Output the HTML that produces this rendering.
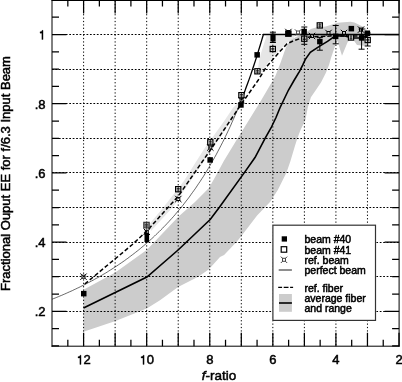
<!DOCTYPE html><html><head><meta charset="utf-8"><style>
html,body{margin:0;padding:0;background:#fff;width:402px;height:382px;overflow:hidden}
svg{display:block;will-change:transform}
text{font-family:"Liberation Sans",sans-serif;fill:#000;stroke:#000;stroke-width:0.5px}
</style></head><body>
<svg width="402" height="382" viewBox="0 0 402 382">
<polygon points="149.5,224.0 163.3,207.4 183.9,181.0 204.1,149.0 224.2,121.0 232.9,108.0 237.5,103.5 241.0,104.5 231.0,121.5 212.2,149.0 172.5,207.5 151.0,231.0" fill="#e6e6e6"/>
<polygon points="257.5,72.0 259.2,60.0 262.0,50.0 264.5,42.0 266.5,35.8 294.0,35.8 294.0,38.8 287.0,42.5 280.0,49.5 273.0,57.0 267.0,64.0 263.0,72.0" fill="#e6e6e6"/>
<polygon points="83.5,289.8 115.3,272.5 147.0,249.8 178.6,216.5 195.0,202.0 208.9,187.9 216.0,175.5 223.8,161.0 237.5,138.6 242.8,130.0 261.2,100.3 275.4,76.0 280.7,62.2 285.9,47.5 290.1,40.2 296.0,37.0 305.0,33.0 310.9,28.9 315.9,27.4 325.8,26.4 337.6,22.7 350.5,21.8 354.4,22.4 361.0,25.7 366.0,28.3 367.5,35.0 367.0,46.0 357.0,45.0 352.0,38.0 347.7,42.0 342.0,55.7 337.5,41.0 335.7,44.0 331.0,58.0 329.0,65.0 325.8,72.9 321.1,82.3 316.4,89.3 310.9,97.2 307.8,107.4 305.4,120.0 300.5,130.0 297.4,138.2 295.0,145.7 290.3,161.4 286.4,172.7 277.8,190.0 270.0,202.1 257.1,215.4 241.4,236.1 236.7,241.8 224.1,255.0 220.0,257.1 208.7,269.6 197.7,277.0 178.1,286.9 160.0,300.3 146.8,308.6 115.5,321.1 83.5,331.8" fill="#cccccc"/>
<g stroke="#000" stroke-width="1" stroke-dasharray="1.25 2.15" stroke-dashoffset="-0.5"><line x1="367.46" y1="0" x2="367.46" y2="346" /><line x1="335.92" y1="0" x2="335.92" y2="346" /><line x1="304.38" y1="0" x2="304.38" y2="346" /><line x1="272.84" y1="0" x2="272.84" y2="346" /><line x1="241.30" y1="0" x2="241.30" y2="346" /><line x1="209.76" y1="0" x2="209.76" y2="346" /><line x1="178.22" y1="0" x2="178.22" y2="346" /><line x1="146.68" y1="0" x2="146.68" y2="346" /><line x1="115.14" y1="0" x2="115.14" y2="346" /><line x1="83.60" y1="0" x2="83.60" y2="346" /></g>
<g stroke="#000" stroke-width="1" stroke-dasharray="1.75 1.7"><line x1="52" y1="311.50" x2="399" y2="311.50" /><line x1="52" y1="276.50" x2="399" y2="276.50" /><line x1="52" y1="242.50" x2="399" y2="242.50" /><line x1="52" y1="207.50" x2="399" y2="207.50" /><line x1="52" y1="172.50" x2="399" y2="172.50" /><line x1="52" y1="138.50" x2="399" y2="138.50" /><line x1="52" y1="103.50" x2="399" y2="103.50" /><line x1="52" y1="69.50" x2="399" y2="69.50" /><line x1="52" y1="34.50" x2="399" y2="34.50" /></g>
<polyline points="52.1,299.2 53.6,298.6 55.2,298.0 56.8,297.3 58.4,296.7 59.9,296.0 61.5,295.4 63.1,294.7 64.7,294.0 66.3,293.3 67.8,292.6 69.4,291.9 71.0,291.2 72.6,290.5 74.1,289.7 75.7,289.0 77.3,288.2 78.9,287.5 80.4,286.7 82.0,285.9 83.6,285.1 85.2,284.3 86.8,283.5 88.3,282.7 89.9,281.9 91.5,281.0 93.1,280.2 94.6,279.3 96.2,278.4 97.8,277.6 99.4,276.7 100.9,275.8 102.5,274.8 104.1,273.9 105.7,273.0 107.3,272.0 108.8,271.0 110.4,270.0 112.0,269.0 113.6,268.0 115.1,267.0 116.7,266.0 118.3,264.9 119.9,263.8 121.4,262.8 123.0,261.7 124.6,260.6 126.2,259.4 127.8,258.3 129.3,257.1 130.9,255.9 132.5,254.7 134.1,253.5 135.6,252.3 137.2,251.1 138.8,249.8 140.4,248.5 141.9,247.2 143.5,245.9 145.1,244.5 146.7,243.2 148.3,241.8 149.8,240.4 151.4,239.0 153.0,237.5 154.6,236.0 156.1,234.5 157.7,233.0 159.3,231.5 160.9,229.9 162.5,228.3 164.0,226.7 165.6,225.1 167.2,223.4 168.8,221.7 170.3,220.0 171.9,218.3 173.5,216.5 175.1,214.7 176.6,212.8 178.2,211.0 179.8,209.1 181.4,207.1 183.0,205.2 184.5,203.2 186.1,201.1 187.7,199.1 189.3,197.0 190.8,194.8 192.4,192.6 194.0,190.4 195.6,188.2 197.1,185.9 198.7,183.5 200.3,181.2 201.9,178.7 203.5,176.3 205.0,173.8 206.6,171.2 208.2,168.6 209.8,165.9 211.3,163.2 212.9,160.5 214.5,157.6 216.1,154.8 217.6,151.9 219.2,148.9 220.8,145.8 222.4,142.7 224.0,139.6 225.5,136.4 227.1,133.1 228.7,129.7 230.3,126.3 231.8,122.8 233.4,119.2 235.0,115.6 236.6,111.9 238.1,108.1 239.7,104.2 241.3,100.2" fill="none" stroke="#000" stroke-width="0.6"/>
<polyline points="241.3,100.2 242.9,96.2 244.5,92.1 246.0,87.8 247.6,83.5 249.2,79.1 250.8,74.6 252.3,70.0 253.9,65.2 255.5,60.4 257.1,55.5 258.6,50.4 260.2,45.2 261.8,39.9 263.4,34.5 263.4,34.5 399.0,34.5" fill="none" stroke="#000" stroke-width="1.3"/>
<polyline points="83.6,285.0 131.8,245.0 146.8,231.0 178.4,196.0 209.7,151.0 240.6,105.2 258.3,80.0 266.0,67.4 279.6,51.7 286.9,43.9 293.7,40.7 299.9,38.6 310.0,37.0 330.0,36.0 367.0,36.0" fill="none" stroke="#000" stroke-width="1.5" stroke-dasharray="4.2 2.3" stroke-dashoffset="5"/>
<polyline points="83.5,308.0 146.9,277.0 178.1,250.0 210.2,219.5 219.4,207.3 244.0,173.1 255.0,157.5 265.2,138.2 271.0,128.0 276.0,117.5 280.0,107.7 288.5,90.0 294.0,80.5 299.5,71.4 302.8,64.9 305.2,59.6 310.3,52.4 319.7,46.1 327.5,41.4 335.4,35.8 345.0,36.0 352.0,38.0 361.0,38.0 367.0,36.0" fill="none" stroke="#000" stroke-width="1.6"/>
<g stroke="#000" stroke-width="1" fill="none"><rect x="82.0" y="275.2" width="3" height="3"/><path d="M80.3 273.5L82.0 275.2M86.7 273.5L85.0 275.2M80.3 279.9L82.0 278.2M86.7 279.9L85.0 278.2"/></g>
<rect x="81.0" y="290.9" width="5.5" height="5.5" fill="#000"/>
<rect x="143.8" y="222.3" width="5.4" height="5.6" fill="#999" stroke="#333" stroke-width="1.1"/><path d="M146.5 222.3V228M144.8 224.6h3.4M144.8 226h3.4" stroke="#222" stroke-width="0.7"/>
<g stroke="#000" stroke-width="1" fill="none"><rect x="145.3" y="230.3" width="3" height="3"/><path d="M143.6 228.6L145.3 230.3M150.0 228.6L148.3 230.3M143.6 235.0L145.3 233.3M150.0 235.0L148.3 233.3"/></g>
<rect x="144.5" y="233" width="4.6" height="9" fill="#000"/>
<rect x="175.6" y="186.6" width="5.2" height="5.2" fill="#fff" stroke="#000" stroke-width="1.2"/>
<path d="M178.2 186.6V191.8M176.6 188.6h3.2M176.6 190.0h3.2" stroke="#000" stroke-width="0.8" fill="none"/>
<g stroke="#000" stroke-width="1" fill="none"><rect x="176.8" y="197.5" width="3" height="3"/><path d="M175.1 195.8L176.8 197.5M181.5 195.8L179.8 197.5M175.1 202.2L176.8 200.5M181.5 202.2L179.8 200.5"/></g>
<rect x="207.7" y="139.7" width="5.2" height="5.2" fill="#fff" stroke="#000" stroke-width="1.2"/>
<path d="M210.3 139.7V144.9M208.7 141.7h3.2M208.7 143.1h3.2" stroke="#000" stroke-width="0.8" fill="none"/>
<g stroke="#000" stroke-width="1" fill="none"><rect x="208.8" y="146.0" width="3" height="3"/><path d="M207.1 144.3L208.8 146.0M213.5 144.3L211.8 146.0M207.1 150.7L208.8 149.0M213.5 150.7L211.8 149.0"/></g>
<rect x="207.4" y="157.2" width="5.5" height="5.5" fill="#000"/>
<g stroke="#000" stroke-width="1" fill="none"><rect x="240.0" y="98.8" width="3" height="3"/><path d="M238.3 97.1L240.0 98.8M244.7 97.1L243.0 98.8M238.3 103.5L240.0 101.8M244.7 103.5L243.0 101.8"/></g>
<rect x="238.2" y="102.2" width="5.5" height="5.5" fill="#000"/>
<rect x="238.8" y="92.6" width="5.2" height="5.2" fill="#fff" stroke="#000" stroke-width="1.2"/>
<path d="M241.4 92.6V97.8M239.8 94.6h3.2M239.8 96.0h3.2" stroke="#000" stroke-width="0.8" fill="none"/>
<rect x="254.4" y="52.1" width="5.5" height="5.5" fill="#000"/>
<rect x="254.8" y="68.7" width="5.2" height="5.2" fill="#fff" stroke="#000" stroke-width="1.2"/>
<path d="M257.4 68.7V73.9M255.8 70.7h3.2M255.8 72.1h3.2" stroke="#000" stroke-width="0.8" fill="none"/>
<rect x="270.4" y="33.6" width="5.2" height="8" fill="#000"/>
<rect x="270.2" y="46.4" width="5.2" height="5.2" fill="#fff" stroke="#000" stroke-width="1.2"/>
<path d="M272.8 46.4V51.6M271.2 48.4h3.2M271.2 49.8h3.2" stroke="#000" stroke-width="0.8" fill="none"/>
<path d="M272.9 32.2V42.5M269.9 32.2h6M269.9 42.5h6" stroke="#000" stroke-width="1" fill="none"/>
<rect x="285.1" y="30.4" width="6.5" height="6.5" fill="#000"/>
<g stroke="#000" stroke-width="1" fill="none"><rect x="286.9" y="30.5" width="3" height="3"/><path d="M285.2 28.8L286.9 30.5M291.6 28.8L289.9 30.5M285.2 35.2L286.9 33.5M291.6 35.2L289.9 33.5"/></g>
<g stroke="#555" stroke-width="1" fill="none"><rect x="296.5" y="31.0" width="3" height="3"/><path d="M294.8 29.3L296.5 31.0M301.2 29.3L299.5 31.0M294.8 35.7L296.5 34.0M301.2 35.7L299.5 34.0"/></g>
<rect x="301.4" y="28.8" width="5.5" height="5.5" fill="#000"/>
<rect x="301.7" y="36.1" width="5.2" height="5.2" fill="#fff" stroke="#000" stroke-width="1.2"/>
<path d="M304.3 36.1V41.3M302.7 38.1h3.2M302.7 39.5h3.2" stroke="#000" stroke-width="0.8" fill="none"/>
<path d="M304.3 27.0V44.3M301.3 27.0h6M301.3 44.3h6" stroke="#000" stroke-width="1" fill="none"/>
<g stroke="#000" stroke-width="1" fill="none"><rect x="310.5" y="34.5" width="3" height="3"/><path d="M308.8 32.8L310.5 34.5M315.2 32.8L313.5 34.5M308.8 39.2L310.5 37.5M315.2 39.2L313.5 37.5"/></g>
<rect x="317.2" y="22.8" width="5.2" height="5.2" fill="#fff" stroke="#000" stroke-width="1.2"/>
<path d="M319.8 22.8V28.0M318.2 24.8h3.2M318.2 26.2h3.2" stroke="#000" stroke-width="0.8" fill="none"/>
<rect x="317.1" y="38.8" width="5.5" height="5.5" fill="#000"/>
<path d="M319.8 37.4V50.2M316.8 37.4h6M316.8 50.2h6" stroke="#000" stroke-width="1" fill="none"/>
<g stroke="#000" stroke-width="1" fill="none"><rect x="327.0" y="31.5" width="3" height="3"/><path d="M325.3 29.8L327.0 31.5M331.7 29.8L330.0 31.5M325.3 36.2L327.0 34.5M331.7 36.2L330.0 34.5"/></g>
<rect x="332.9" y="33.6" width="5.5" height="5.5" fill="#000"/>
<path d="M335.7 25.5V43.8M332.7 25.5h6M332.7 43.8h6" stroke="#000" stroke-width="1" fill="none"/>
<g stroke="#000" stroke-width="1" fill="none"><rect x="342.5" y="31.5" width="3" height="3"/><path d="M340.8 29.8L342.5 31.5M347.2 29.8L345.5 31.5M340.8 36.2L342.5 34.5M347.2 36.2L345.5 34.5"/></g>
<rect x="348.6" y="25.9" width="5.5" height="5.5" fill="#000"/>
<rect x="348.4" y="34.9" width="5.2" height="5.2" fill="#fff" stroke="#000" stroke-width="1.2"/>
<path d="M351.0 34.9V40.1M349.4 36.9h3.2M349.4 38.3h3.2" stroke="#000" stroke-width="0.8" fill="none"/>
<rect x="358.9" y="35.2" width="5.5" height="5.5" fill="#000"/>
<path d="M361.6 29.0V49.2M358.6 29.0h6M358.6 49.2h6" stroke="#000" stroke-width="1" fill="none"/>
<g stroke="#000" stroke-width="1" fill="none"><rect x="359.5" y="28.1" width="3" height="3"/><path d="M357.8 26.4L359.5 28.1M364.2 26.4L362.5 28.1M357.8 32.8L359.5 31.1M364.2 32.8L362.5 31.1"/></g>
<rect x="364.6" y="30.5" width="5.5" height="5.5" fill="#000"/>
<rect x="365.1" y="37.4" width="5.2" height="5.2" fill="#fff" stroke="#000" stroke-width="1.2"/>
<path d="M367.7 37.4V42.6M366.1 39.4h3.2M366.1 40.8h3.2" stroke="#000" stroke-width="0.8" fill="none"/>
<path d="M367.7 33.0V46.0M364.7 33.0h6M364.7 46.0h6" stroke="#000" stroke-width="1" fill="none"/>
<path d="M52 0V346.7M51.5 346.2H399.6M399.1 346.7V0" stroke="#000" stroke-width="1" fill="none"/>
<rect x="51.5" y="0" width="348.1" height="1" fill="#000"/>
<path d="M399.00 346.2V332.70M399.00 0V13.50M383.23 346.2V339.70M383.23 0V6.50M367.46 346.2V332.70M367.46 0V13.50M351.69 346.2V339.70M351.69 0V6.50M335.92 346.2V332.70M335.92 0V13.50M320.15 346.2V339.70M320.15 0V6.50M304.38 346.2V332.70M304.38 0V13.50M288.61 346.2V339.70M288.61 0V6.50M272.84 346.2V332.70M272.84 0V13.50M257.07 346.2V339.70M257.07 0V6.50M241.30 346.2V332.70M241.30 0V13.50M225.53 346.2V339.70M225.53 0V6.50M209.76 346.2V332.70M209.76 0V13.50M193.99 346.2V339.70M193.99 0V6.50M178.22 346.2V332.70M178.22 0V13.50M162.45 346.2V339.70M162.45 0V6.50M146.68 346.2V332.70M146.68 0V13.50M130.91 346.2V339.70M130.91 0V6.50M115.14 346.2V332.70M115.14 0V13.50M99.37 346.2V339.70M99.37 0V6.50M83.60 346.2V332.70M83.60 0V13.50M67.83 346.2V339.70M67.83 0V6.50M52 345.90H59.00M399.1 345.90H392.10M52 328.60H59.00M399.1 328.60H392.10M52 311.30H66.50M399.1 311.30H384.60M52 294.00H59.00M399.1 294.00H392.10M52 276.70H59.00M399.1 276.70H392.10M52 259.40H59.00M399.1 259.40H392.10M52 242.10H66.50M399.1 242.10H384.60M52 224.80H59.00M399.1 224.80H392.10M52 207.50H59.00M399.1 207.50H392.10M52 190.20H59.00M399.1 190.20H392.10M52 172.90H66.50M399.1 172.90H384.60M52 155.60H59.00M399.1 155.60H392.10M52 138.30H59.00M399.1 138.30H392.10M52 121.00H59.00M399.1 121.00H392.10M52 103.70H66.50M399.1 103.70H384.60M52 86.40H59.00M399.1 86.40H392.10M52 69.10H59.00M399.1 69.10H392.10M52 51.80H59.00M399.1 51.80H392.10M52 34.50H66.50M399.1 34.50H384.60M52 17.20H59.00M399.1 17.20H392.10M52 -0.10H59.00M399.1 -0.10H392.10" stroke="#000" stroke-width="1.25" fill="none"/>
<path d="M81.04 364.40 L81.04 355.26 L80.04 355.26 L79.82 355.88 L79.36 356.34 L78.71 356.56 L78.00 356.63 L78.00 358.03 L79.86 358.03 L79.86 364.40Z" fill="#000" stroke="#000" stroke-width="0.3"/>
<text x="83.60" y="364.4" font-size="13">2</text>
<path d="M144.12 364.40 L144.12 355.26 L143.12 355.26 L142.90 355.88 L142.44 356.34 L141.79 356.56 L141.08 356.63 L141.08 358.03 L142.94 358.03 L142.94 364.40Z" fill="#000" stroke="#000" stroke-width="0.3"/>
<text x="146.68" y="364.4" font-size="13">0</text>
<text x="209.76" y="364.4" font-size="13" text-anchor="middle">8</text>
<text x="272.84" y="364.4" font-size="13" text-anchor="middle">6</text>
<text x="335.92" y="364.4" font-size="13" text-anchor="middle">4</text>
<text x="399.00" y="364.4" font-size="13" text-anchor="middle">2</text>
<path d="M43.04 39.50 L43.04 30.36 L42.04 30.36 L41.82 30.98 L41.36 31.44 L40.71 31.66 L40.00 31.73 L40.00 33.13 L41.86 33.13 L41.86 39.50Z" fill="#000" stroke="#000" stroke-width="0.3"/>
<text x="45.6" y="108.70" font-size="13" text-anchor="end">.8</text>
<text x="45.6" y="177.90" font-size="13" text-anchor="end">.6</text>
<text x="45.6" y="247.10" font-size="13" text-anchor="end">.4</text>
<text x="45.6" y="316.30" font-size="13" text-anchor="end">.2</text>
<text x="219" y="379.5" font-size="13.5" text-anchor="middle"><tspan font-style="italic">f</tspan>-ratio</text>
<text transform="translate(9.8,173.5) rotate(-90)" font-size="13" text-anchor="middle">Fractional Ouput EE for f/6.3 Input Beam</text>
<rect x="272.2" y="224.6" width="104" height="96.4" fill="#fff"/>
<rect x="272.9" y="225.2" width="102.6" height="95.2" fill="none" stroke="#333" stroke-width="1.2"/>
<rect x="281.7" y="236.3" width="5.3" height="5.3" fill="#000"/>
<rect x="281.2" y="246.7" width="5.5" height="5.5" fill="#fff" stroke="#000" stroke-width="1.2"/>
<g stroke="#444" stroke-width="1" fill="none"><rect x="282.5" y="258.3" width="3" height="3"/><path d="M280.8 256.6L282.5 258.3M287.2 256.6L285.5 258.3M280.8 263.0L282.5 261.3M287.2 263.0L285.5 261.3"/></g>
<line x1="278.7" y1="270" x2="291.9" y2="270" stroke="#444" stroke-width="1.2"/>
<line x1="278.2" y1="287.4" x2="293.1" y2="287.4" stroke="#000" stroke-width="1.4" stroke-dasharray="4.8 1.6" stroke-dashoffset="0.9"/>
<rect x="279" y="294" width="12.9" height="17.8" fill="#cccccc"/>
<line x1="279" y1="303" x2="291.9" y2="303" stroke="#000" stroke-width="1.6"/>
<text x="304.5" y="242.8" font-size="10.5">beam #40</text>
<text x="304.5" y="253.6" font-size="10.5">beam #41</text>
<text x="304.5" y="263.7" font-size="10.5">ref. beam</text>
<text x="304.5" y="274.0" font-size="10.5">perfect beam</text>
<text x="304.5" y="291.9" font-size="10.5">ref. fiber</text>
<text x="304.5" y="302.2" font-size="10.5">average fiber</text>
<text x="304.5" y="312.3" font-size="10.5">and range</text>
</svg></body></html>
